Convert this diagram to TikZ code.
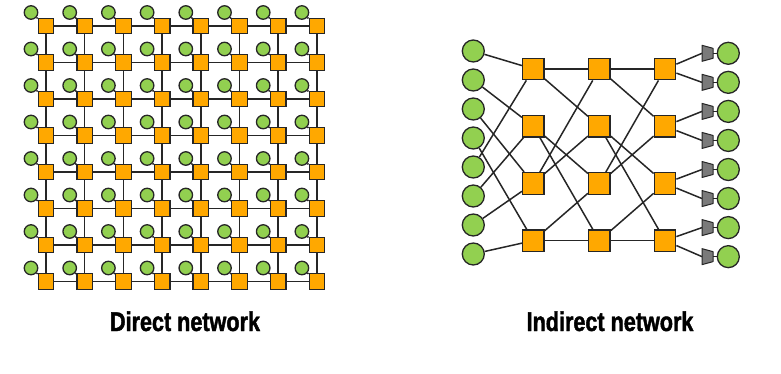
\documentclass[tikz,border=0pt]{standalone}
\usepackage{fontspec}
\setmainfont{Liberation Sans}
\newfontfamily\lblfont[FakeBold=1.6,FakeStretch=0.8]{Liberation Sans}
\usetikzlibrary{calc}
\definecolor{sworange}{HTML}{FFA800}
\definecolor{ndgreen}{HTML}{92D050}
\definecolor{lnk}{HTML}{262626}
\definecolor{trapgray}{HTML}{7A7A7A}
\begin{document}
\begin{tikzpicture}[x=1pt,y=-1pt,
  sw/.style={draw=lnk,fill=sworange,line width=1.3pt,minimum size=15.5pt,inner sep=0pt},
  nd/.style={circle,draw=lnk,fill=ndgreen,line width=1.3pt,minimum size=13.5pt,inner sep=0pt},
  bsw/.style={sw,minimum size=21.5pt},
  bnd/.style={nd,minimum size=22pt},
  lk/.style={draw=lnk,line width=1.5pt},
  trapfill/.style={fill=trapgray,draw=lnk,line width=1pt,line join=round},
  lbl/.style={font=\lblfont\bfseries\fontsize{27}{32}\selectfont,anchor=base,inner sep=0pt}]
\useasboundingbox (0,0) rectangle (781,374);
% ---------------- Direct network ----------------
\foreach \i in {0,...,7}{
  \foreach \j in {0,...,7}{
    \node[sw] (s-\i-\j) at ({46+38.7*\i},{26+36.5*\j}) {};
    \node[nd] (c-\i-\j) at ({46+38.7*\i-15},{26+36.5*\j-13.5}) {};
    \draw[lk] (c-\i-\j) -- (s-\i-\j);
  }
}
\foreach \i [evaluate=\i as \n using int(\i+1)] in {0,...,6}{
  \foreach \j in {0,...,7}{
    \draw[lk] (s-\i-\j) -- (s-\n-\j);
    \draw[lk] (s-\j-\i) -- (s-\j-\n);
  }
}
\node[lbl] (dlabel) at (185,331) {Direct network};
% ---------------- Indirect network ----------------
\foreach \k in {1,...,8}{
  \node[bnd] (in-\k) at (473.3,{51+29*(\k-1)}) {};
  \node[bnd] (out-\k) at (728.3,{53.3+29.05*(\k-1)}) {};
  \coordinate (t-\k) at (702,{53.3+29.05*(\k-1)});
  \filldraw[trapfill] ($(t-\k)+(0,-8)$) -- ++(11,3) -- ++(0,10) -- ++(-11,3) -- cycle;
  \coordinate (tr-\k) at (713,{53.3+29.05*(\k-1)});
  \draw[lk] (tr-\k) -- (out-\k);
}
\foreach \c/\x in {1/533.3,2/599.3,3/665}{
  \foreach \r in {1,...,4}{
    \node[bsw] (x-\c-\r) at (\x,{69+57.2*(\r-1)}) {};
  }
}
% inputs to first stage (perfect shuffle)
\foreach \k/\r in {1/1,2/2,3/3,4/4,5/1,6/2,7/3,8/4}{
  \draw[lk] (in-\k) -- (x-1-\r);
}
% stage to stage
\foreach \a/\b in {1/2,2/3}{
  \foreach \r/\p/\q in {1/1/2,2/3/4,3/1/2,4/3/4}{
    \draw[lk] (x-\a-\r) -- (x-\b-\p);
    \draw[lk] (x-\a-\r) -- (x-\b-\q);
  }
}
% last stage to output ports
\foreach \r/\p/\q in {1/1/2,2/3/4,3/5/6,4/7/8}{
  \draw[lk] (x-3-\r) -- (t-\p);
  \draw[lk] (x-3-\r) -- (t-\q);
}
\node[lbl] (ilabel) at (610,331) {Indirect network};
\end{tikzpicture}
\end{document}
